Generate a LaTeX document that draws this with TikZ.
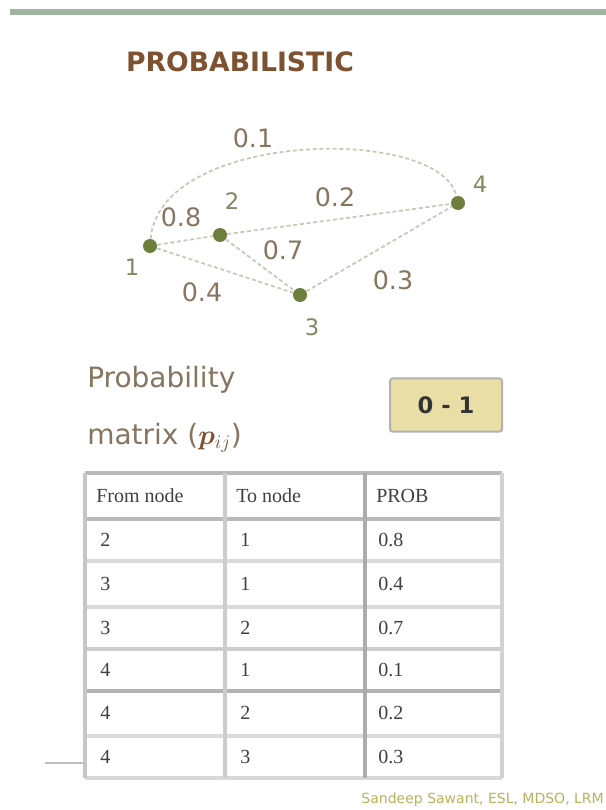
\documentclass[tikz,border=0pt]{standalone}
\usepackage{amsmath}
\usepackage{amssymb}
\usepackage{bm}
\usepackage{fontspec}
\setmainfont{Liberation Serif}
\setsansfont{DejaVu Sans}
\usepackage{tikz}

\definecolor{barcol}{HTML}{A0B4A0}
\definecolor{titlecol}{HTML}{7E5230}
\definecolor{dotcol}{HTML}{6E7E3C}
\definecolor{linkcol}{HTML}{C8C8B8}
\definecolor{numcol}{HTML}{867660}
\definecolor{idcol}{HTML}{7E8A62}
\definecolor{boxfill}{HTML}{E9DFA6}
\definecolor{footcol}{HTML}{B4B45E}

\tikzset{
    vertex/.style={circle, fill=dotcol, inner sep=0pt, minimum size=10.5pt},
    link/.style={draw=linkcol, line width=1.3pt, dash pattern=on 3pt off 2pt},
    weight/.style={text=numcol, font=\sffamily\fontsize{19pt}{22pt}\selectfont, inner sep=1pt},
    vid/.style={text=idcol, font=\sffamily\fontsize{17pt}{20pt}\selectfont, inner sep=1pt},
    cell/.style={anchor=west, text=black!75, font=\rmfamily\fontsize{15pt}{18pt}\selectfont, inner sep=0pt}
}

\begin{document}
\begin{tikzpicture}[x=0.75pt, y=-0.75pt]
    \useasboundingbox (0,0) rectangle (606,810);
    \fill[white] (0,0) rectangle (606,810);

    % Top bar and title
    \fill[barcol] (10,9) rectangle (606,15);
    \node[text=titlecol, font=\sffamily\bfseries\fontsize{20pt}{24pt}\selectfont] (title) at (240,62) {PROBABILISTIC};

    % Graph vertices
    \node[vertex] (n1) at (150,246) {};
    \node[vertex] (n2) at (220,235) {};
    \node[vertex] (n3) at (300,295) {};
    \node[vertex] (n4) at (458,203) {};
    \node[vid] (l1) at (132,267) {1};
    \node[vid] (l2) at (232,201) {2};
    \node[vid] (l3) at (312,327) {3};
    \node[vid] (l4) at (480,184) {4};

    % Links
    \draw[link] (n1) .. controls (160,130) and (440,125) .. (n4);
    \draw[link] (n1) -- (n2);
    \draw[link] (n1) -- (n3);
    \draw[link] (n2) -- (n3);
    \draw[link] (n2) -- (n4);
    \draw[link] (n3) -- (n4);

    % Link weights
    \node[weight] (w41) at (253,138) {0.1};
    \node[weight] (w21) at (181,217) {0.8};
    \node[weight] (w42) at (335,197) {0.2};
    \node[weight] (w32) at (283,250) {0.7};
    \node[weight] (w31) at (202,292) {0.4};
    \node[weight] (w43) at (393,280) {0.3};

    % Matrix caption and range box
    \node[anchor=west, text=numcol, font=\sffamily\fontsize{21pt}{25pt}\selectfont, inner sep=0pt] (cap1) at (87,380) {Probability};
    \node[anchor=west, text=numcol, font=\sffamily\fontsize{21pt}{25pt}\selectfont, inner sep=0pt] (cap2) at (87,438) {matrix (\textcolor{titlecol}{$\bm{p}_{ij}$})};
    \node[draw=gray!60, line width=1.5pt, fill=boxfill, rounded corners=2pt, minimum width=84pt, minimum height=40pt, font=\sffamily\bfseries\fontsize{17pt}{20pt}\selectfont, text=black!80] (range) at (446,405) {0 - 1};

    % Table grid
    \foreach \y/\c in {473/55, 519/55, 561/30, 607/30, 649/40, 691/60, 736/30, 778/30} {
        \draw[gray!\c, line width=2.5pt] (85,\y) -- (502,\y);
    }
    \foreach \x/\c in {85/45, 225/40, 365/65, 502/35} {
        \draw[gray!\c, line width=2.5pt] (\x,473) -- (\x,778);
    }
    \coordinate (tl) at (85,763);
    \coordinate (tfree) at (45,763);
    \draw[gray!50, line width=1.2pt] (tfree) -- (tl);

    % Table header
    \node[cell] (h1) at (96,496) {From node};
    \node[cell] (h2) at (236,496) {To node};
    \node[cell] (h3) at (376,496) {PROB};

    % Table rows
    \foreach \r/\ym/\f/\t/\p in {1/540/2/1/0.8, 2/584/3/1/0.4, 3/628/3/2/0.7, 4/670/4/1/0.1, 5/713/4/2/0.2, 6/757/4/3/0.3} {
        \node[cell] (f\r) at (100,\ym) {\f};
        \node[cell] (t\r) at (240,\ym) {\t};
        \node[cell] (p\r) at (378,\ym) {\p};
    }

    % Footer
    \node[anchor=east, text=footcol, font=\sffamily\fontsize{10.5pt}{12pt}\selectfont, inner sep=0pt] (foot) at (604,800) {Sandeep Sawant, ESL, MDSO, LRM};
\end{tikzpicture}
\end{document}
